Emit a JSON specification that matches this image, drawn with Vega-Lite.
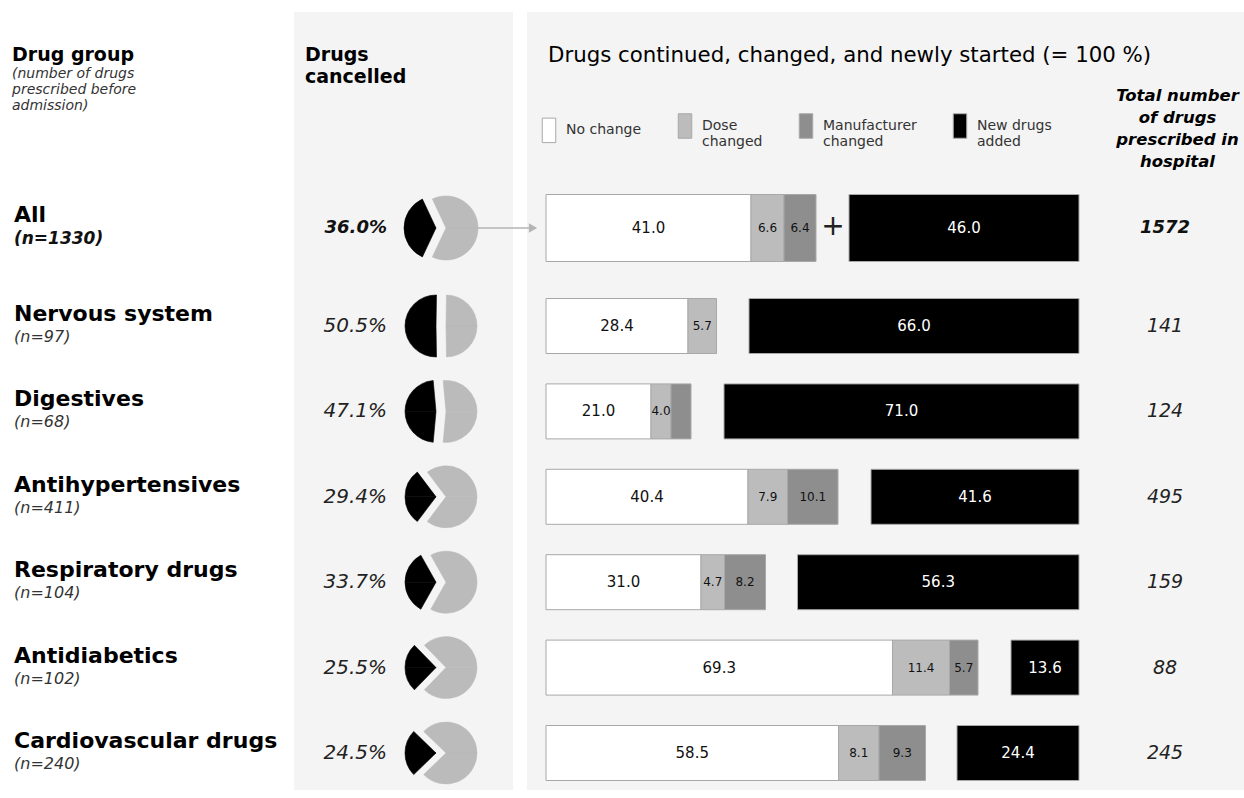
{
  "$schema": "https://vega.github.io/schema/vega-lite/v6.json",
  "width": 1244,
  "height": 798,
  "autosize": "none",
  "padding": 0,
  "background": "white",
  "config": {
    "view": {"stroke": null},
    "font": "DejaVu Sans",
    "legend": {
      "orient": "none", "legendX": 536, "legendY": 113, "direction": "horizontal",
      "symbolType": "M-0.55,-1H0.55V1H-0.55Z", "symbolSize": 600,
      "symbolStrokeColor": "#a8a8a8", "symbolStrokeWidth": 1,
      "labelFont": "DejaVu Sans", "labelFontSize": 14, "labelColor": "#333333", "labelOffset": 4,
      "columnPadding": 30, "labelLimit": 200
    }
  },
  "datasets": {
    "groups": [
      {"group": "All", "ntext": "(n=1330)", "cancelled": 0.360, "total": 1572},
      {"group": "Nervous system", "ntext": "(n=97)", "cancelled": 0.505, "total": 141},
      {"group": "Digestives", "ntext": "(n=68)", "cancelled": 0.471, "total": 124},
      {"group": "Antihypertensives", "ntext": "(n=411)", "cancelled": 0.294, "total": 495},
      {"group": "Respiratory drugs", "ntext": "(n=104)", "cancelled": 0.337, "total": 159},
      {"group": "Antidiabetics", "ntext": "(n=102)", "cancelled": 0.255, "total": 88},
      {"group": "Cardiovascular drugs", "ntext": "(n=240)", "cancelled": 0.245, "total": 245}
    ],
    "shares": [
      {"group": "All", "category": "No change", "seq": 1, "value": 41.0},
      {"group": "All", "category": "Dose changed", "seq": 2, "value": 6.6},
      {"group": "All", "category": "Manufacturer changed", "seq": 3, "value": 6.4},
      {"group": "All", "category": "New drugs added", "seq": 4, "value": 46.0},
      {"group": "Nervous system", "category": "No change", "seq": 1, "value": 28.4},
      {"group": "Nervous system", "category": "Dose changed", "seq": 2, "value": 5.7},
      {"group": "Nervous system", "category": "New drugs added", "seq": 4, "value": 66.0},
      {"group": "Digestives", "category": "No change", "seq": 1, "value": 21.0},
      {"group": "Digestives", "category": "Dose changed", "seq": 2, "value": 4.0},
      {"group": "Digestives", "category": "Manufacturer changed", "seq": 3, "value": 4.0},
      {"group": "Digestives", "category": "New drugs added", "seq": 4, "value": 71.0},
      {"group": "Antihypertensives", "category": "No change", "seq": 1, "value": 40.4},
      {"group": "Antihypertensives", "category": "Dose changed", "seq": 2, "value": 7.9},
      {"group": "Antihypertensives", "category": "Manufacturer changed", "seq": 3, "value": 10.1},
      {"group": "Antihypertensives", "category": "New drugs added", "seq": 4, "value": 41.6},
      {"group": "Respiratory drugs", "category": "No change", "seq": 1, "value": 31.0},
      {"group": "Respiratory drugs", "category": "Dose changed", "seq": 2, "value": 4.7},
      {"group": "Respiratory drugs", "category": "Manufacturer changed", "seq": 3, "value": 8.2},
      {"group": "Respiratory drugs", "category": "New drugs added", "seq": 4, "value": 56.3},
      {"group": "Antidiabetics", "category": "No change", "seq": 1, "value": 69.3},
      {"group": "Antidiabetics", "category": "Dose changed", "seq": 2, "value": 11.4},
      {"group": "Antidiabetics", "category": "Manufacturer changed", "seq": 3, "value": 5.7},
      {"group": "Antidiabetics", "category": "New drugs added", "seq": 4, "value": 13.6},
      {"group": "Cardiovascular drugs", "category": "No change", "seq": 1, "value": 58.5},
      {"group": "Cardiovascular drugs", "category": "Dose changed", "seq": 2, "value": 8.1},
      {"group": "Cardiovascular drugs", "category": "Manufacturer changed", "seq": 3, "value": 9.3},
      {"group": "Cardiovascular drugs", "category": "New drugs added", "seq": 4, "value": 24.4}
    ]
  },
  "resolve": {"scale": {"x": "independent"}},
  "layer": [
    {
      "resolve": {"scale": {"theta": "independent"}},
      "layer": [
        {
          "data": {"values": [{}]},
          "mark": {"type": "rect", "fill": "#f4f4f4"},
          "encoding": {
            "x": {"datum": -50.4, "type": "quantitative", "scale": {"domain": [-109.2, 139.6], "nice": false, "zero": false}, "axis": null},
            "x2": {"datum": -6.6},
            "y": {"value": 12}, "y2": {"value": 790}
          }
        },
        {
          "data": {"values": [{}]},
          "mark": {"type": "rect", "fill": "#f4f4f4"},
          "encoding": {
            "x": {"datum": -3.8, "type": "quantitative", "scale": {"domain": [-109.2, 139.6], "nice": false, "zero": false}, "axis": null},
            "x2": {"datum": 139.6},
            "y": {"value": 12}, "y2": {"value": 790}
          }
        },
        {
          "data": {"values": [{}]},
          "mark": {"type": "text", "text": "Drug group", "fontSize": 19, "fontWeight": "bold", "align": "left", "baseline": "alphabetic", "color": "#000"},
          "encoding": {"x": {"datum": -106.8, "type": "quantitative", "axis": null}, "y": {"value": 61}}
        },
        {
          "data": {"values": [{}]},
          "mark": {"type": "text", "text": ["(number of drugs", "prescribed before", "admission)"], "fontSize": 14, "fontStyle": "italic", "lineHeight": 16, "align": "left", "baseline": "alphabetic", "color": "#333"},
          "encoding": {"x": {"datum": -106.8, "type": "quantitative", "axis": null}, "y": {"value": 78}}
        },
        {
          "data": {"values": [{}]},
          "mark": {"type": "text", "text": ["Drugs", "cancelled"], "fontSize": 19, "fontWeight": "bold", "lineHeight": 22, "align": "left", "baseline": "alphabetic", "color": "#000"},
          "encoding": {"x": {"datum": -48.2, "type": "quantitative", "axis": null}, "y": {"value": 61}}
        },
        {
          "data": {"values": [{}]},
          "mark": {"type": "text", "text": "Drugs continued, changed, and newly started (= 100 %)", "fontSize": 21.3, "align": "left", "baseline": "alphabetic", "color": "#000"},
          "encoding": {"x": {"datum": 0.4, "type": "quantitative", "axis": null}, "y": {"value": 62}}
        },
        {
          "data": {"values": [{}]},
          "mark": {"type": "text", "text": ["Total number", "of drugs", "prescribed in", "hospital"], "fontSize": 16.5, "fontWeight": "bold", "fontStyle": "italic", "lineHeight": 22, "align": "center", "baseline": "alphabetic", "color": "#000"},
          "encoding": {"x": {"datum": 126.3, "type": "quantitative", "axis": null}, "y": {"value": 101}}
        },
        {
          "data": {"name": "groups"},
          "transform": [{"filter": "datum.group != 'All'"}],
          "mark": {"type": "text", "fontSize": 22, "fontWeight": "bold", "align": "left", "baseline": "alphabetic", "dy": -5, "color": "#000"},
          "encoding": {
            "x": {"datum": -106.4, "type": "quantitative", "axis": null},
            "y": {"field": "group", "type": "nominal", "scale": {"type": "point", "domain": ["All", "Nervous system", "Digestives", "Antihypertensives", "Respiratory drugs", "Antidiabetics", "Cardiovascular drugs"], "range": [240.6, 753], "padding": 0}, "axis": null},
            "text": {"field": "group"}
          }
        },
        {
          "data": {"name": "groups"},
          "transform": [{"filter": "datum.group == 'All'"}],
          "mark": {"type": "text", "fontSize": 22, "fontWeight": "bold", "align": "left", "baseline": "alphabetic", "dy": -6, "yOffset": -12.6, "color": "#000"},
          "encoding": {
            "x": {"datum": -106.4, "type": "quantitative", "axis": null},
            "y": {"field": "group", "type": "nominal", "axis": null},
            "text": {"field": "group"}
          }
        },
        {
          "data": {"name": "groups"},
          "transform": [{"filter": "datum.group != 'All'"}],
          "mark": {"type": "text", "fontSize": 16, "fontStyle": "italic", "align": "left", "baseline": "alphabetic", "dy": 16, "color": "#333"},
          "encoding": {
            "x": {"datum": -106.4, "type": "quantitative", "axis": null},
            "y": {"field": "group", "type": "nominal", "axis": null},
            "text": {"field": "ntext"}
          }
        },
        {
          "data": {"name": "groups"},
          "transform": [{"filter": "datum.group == 'All'"}],
          "mark": {"type": "text", "fontSize": 17, "fontStyle": "italic", "fontWeight": "bold", "align": "left", "baseline": "alphabetic", "dy": 16, "yOffset": -12.6, "color": "#111"},
          "encoding": {
            "x": {"datum": -106.4, "type": "quantitative", "axis": null},
            "y": {"field": "group", "type": "nominal", "axis": null},
            "text": {"field": "ntext"}
          }
        },
        {
          "data": {"name": "groups"},
          "transform": [{"filter": "datum.group != 'All'"}],
          "mark": {"type": "text", "fontSize": 20, "fontStyle": "italic", "align": "right", "baseline": "middle", "color": "#222"},
          "encoding": {
            "x": {"datum": -31.8, "type": "quantitative", "axis": null},
            "y": {"field": "group", "type": "nominal", "axis": null},
            "text": {"field": "cancelled", "type": "quantitative", "format": ".1%"}
          }
        },
        {
          "data": {"name": "groups"},
          "transform": [{"filter": "datum.group == 'All'"}],
          "mark": {"type": "text", "fontSize": 18, "fontStyle": "italic", "fontWeight": "bold", "align": "right", "baseline": "middle", "yOffset": -12.6, "color": "#111"},
          "encoding": {
            "x": {"datum": -31.8, "type": "quantitative", "axis": null},
            "y": {"field": "group", "type": "nominal", "axis": null},
            "text": {"field": "cancelled", "type": "quantitative", "format": ".1%"}
          }
        },
        {
          "data": {"name": "groups"},
          "transform": [{"filter": "datum.group != 'All'"}],
          "mark": {"type": "arc", "radius": 31, "fill": "#000000", "stroke": "#000000", "strokeWidth": 0.6, "xOffset": -5},
          "encoding": {
            "x": {"datum": -21, "type": "quantitative", "axis": null},
            "y": {"field": "group", "type": "nominal", "axis": null},
            "theta": {"field": "cancelled", "type": "quantitative", "stack": null, "scale": {"domain": [0, 2], "range": [4.712389, 10.995574]}},
            "theta2": {"datum": 0}
          }
        },
        {
          "data": {"name": "groups"},
          "transform": [{"filter": "datum.group != 'All'"}],
          "mark": {"type": "arc", "radius": 31, "fill": "#000000", "stroke": "#000000", "strokeWidth": 0.6, "xOffset": -5},
          "encoding": {
            "x": {"datum": -21, "type": "quantitative", "axis": null},
            "y": {"field": "group", "type": "nominal", "axis": null},
            "theta": {"field": "cancelled", "type": "quantitative", "stack": null, "scale": {"domain": [0, 2], "range": [4.712389, -1.570796]}},
            "theta2": {"datum": 0}
          }
        },
        {
          "data": {"name": "groups"},
          "transform": [{"filter": "datum.group != 'All'"}],
          "mark": {"type": "arc", "radius": 31, "fill": "#bbbbbb", "stroke": "#bbbbbb", "strokeWidth": 0.6, "xOffset": 5},
          "encoding": {
            "x": {"datum": -21, "type": "quantitative", "axis": null},
            "y": {"field": "group", "type": "nominal", "axis": null},
            "theta": {"field": "cancelled", "type": "quantitative", "stack": null, "scale": {"domain": [0, 2], "range": [4.712389, 10.995574]}},
            "theta2": {"datum": 1}
          }
        },
        {
          "data": {"name": "groups"},
          "transform": [{"filter": "datum.group != 'All'"}],
          "mark": {"type": "arc", "radius": 31, "fill": "#bbbbbb", "stroke": "#bbbbbb", "strokeWidth": 0.6, "xOffset": 5},
          "encoding": {
            "x": {"datum": -21, "type": "quantitative", "axis": null},
            "y": {"field": "group", "type": "nominal", "axis": null},
            "theta": {"field": "cancelled", "type": "quantitative", "stack": null, "scale": {"domain": [0, 2], "range": [4.712389, -1.570796]}},
            "theta2": {"datum": 1}
          }
        },
        {
          "data": {"name": "groups"},
          "transform": [{"filter": "datum.group == 'All'"}],
          "mark": {"type": "arc", "radius": 32, "fill": "#000000", "stroke": "#000000", "strokeWidth": 0.6, "xOffset": -5, "yOffset": -12.6},
          "encoding": {
            "x": {"datum": -21, "type": "quantitative", "axis": null},
            "y": {"field": "group", "type": "nominal", "axis": null},
            "theta": {"field": "cancelled", "type": "quantitative", "stack": null, "scale": {"domain": [0, 2], "range": [4.712389, 10.995574]}},
            "theta2": {"datum": 0}
          }
        },
        {
          "data": {"name": "groups"},
          "transform": [{"filter": "datum.group == 'All'"}],
          "mark": {"type": "arc", "radius": 32, "fill": "#000000", "stroke": "#000000", "strokeWidth": 0.6, "xOffset": -5, "yOffset": -12.6},
          "encoding": {
            "x": {"datum": -21, "type": "quantitative", "axis": null},
            "y": {"field": "group", "type": "nominal", "axis": null},
            "theta": {"field": "cancelled", "type": "quantitative", "stack": null, "scale": {"domain": [0, 2], "range": [4.712389, -1.570796]}},
            "theta2": {"datum": 0}
          }
        },
        {
          "data": {"name": "groups"},
          "transform": [{"filter": "datum.group == 'All'"}],
          "mark": {"type": "arc", "radius": 32, "fill": "#bbbbbb", "stroke": "#bbbbbb", "strokeWidth": 0.6, "xOffset": 5, "yOffset": -12.6},
          "encoding": {
            "x": {"datum": -21, "type": "quantitative", "axis": null},
            "y": {"field": "group", "type": "nominal", "axis": null},
            "theta": {"field": "cancelled", "type": "quantitative", "stack": null, "scale": {"domain": [0, 2], "range": [4.712389, 10.995574]}},
            "theta2": {"datum": 1}
          }
        },
        {
          "data": {"name": "groups"},
          "transform": [{"filter": "datum.group == 'All'"}],
          "mark": {"type": "arc", "radius": 32, "fill": "#bbbbbb", "stroke": "#bbbbbb", "strokeWidth": 0.6, "xOffset": 5, "yOffset": -12.6},
          "encoding": {
            "x": {"datum": -21, "type": "quantitative", "axis": null},
            "y": {"field": "group", "type": "nominal", "axis": null},
            "theta": {"field": "cancelled", "type": "quantitative", "stack": null, "scale": {"domain": [0, 2], "range": [4.712389, -1.570796]}},
            "theta2": {"datum": 1}
          }
        },
        {
          "data": {"name": "groups"},
          "transform": [{"filter": "datum.group == 'All'"}],
          "mark": {"type": "rule", "color": "#b5b5b5", "strokeWidth": 1.5, "yOffset": -12.6},
          "encoding": {
            "x": {"datum": -13.6, "type": "quantitative", "axis": null},
            "x2": {"datum": -2.0},
            "y": {"field": "group", "type": "nominal", "axis": null}
          }
        },
        {
          "data": {"name": "groups"},
          "transform": [{"filter": "datum.group == 'All'"}],
          "mark": {"type": "point", "shape": "triangle-right", "filled": true, "color": "#b5b5b5", "opacity": 1, "size": 90, "yOffset": -12.6},
          "encoding": {
            "x": {"datum": -2.6, "type": "quantitative", "axis": null},
            "y": {"field": "group", "type": "nominal", "axis": null}
          }
        },
        {
          "data": {"name": "groups"},
          "transform": [{"filter": "datum.group == 'All'"}],
          "mark": {"type": "text", "text": "+", "fontSize": 28, "align": "center", "baseline": "middle", "yOffset": -13.6, "color": "#222"},
          "encoding": {
            "x": {"datum": 57.4, "type": "quantitative", "axis": null},
            "y": {"field": "group", "type": "nominal", "axis": null}
          }
        },
        {
          "data": {"name": "shares"},
          "transform": [{"filter": "datum.group != 'All' && datum.category != 'New drugs added'"}],
          "mark": {"type": "bar", "height": 55, "stroke": "#a8a8a8", "strokeWidth": 1},
          "encoding": {
            "x": {"field": "value", "type": "quantitative", "stack": "zero", "axis": null},
            "y": {"field": "group", "type": "nominal", "axis": null},
            "color": {"field": "category", "type": "nominal",
              "scale": {"domain": ["No change", "Dose changed", "Manufacturer changed", "New drugs added"], "range": ["#ffffff", "#bcbcbc", "#8e8e8e", "#000000"]},
              "legend": {"title": null, "labelExpr": "datum.label == 'Dose changed' ? ['Dose', 'changed'] : datum.label == 'Manufacturer changed' ? ['Manufacturer', 'changed'] : datum.label == 'New drugs added' ? ['New drugs', 'added'] : datum.label"}},
            "order": {"field": "seq", "type": "quantitative"}
          }
        },
        {
          "data": {"name": "shares"},
          "transform": [{"filter": "datum.group == 'All' && datum.category != 'New drugs added'"}],
          "mark": {"type": "bar", "height": 67, "stroke": "#a8a8a8", "strokeWidth": 1, "yOffset": -12.6},
          "encoding": {
            "x": {"field": "value", "type": "quantitative", "stack": "zero", "axis": null},
            "y": {"field": "group", "type": "nominal", "axis": null},
            "color": {"field": "category", "type": "nominal"},
            "order": {"field": "seq", "type": "quantitative"}
          }
        },
        {
          "data": {"name": "shares"},
          "transform": [{"filter": "datum.group != 'All' && datum.category != 'New drugs added'"}],
          "mark": {"type": "text", "align": "center", "baseline": "middle", "color": "#111"},
          "encoding": {
            "x": {"field": "value", "type": "quantitative", "stack": "zero", "bandPosition": 0.5, "axis": null},
            "y": {"field": "group", "type": "nominal", "axis": null},
            "detail": {"field": "category"},
            "order": {"field": "seq", "type": "quantitative"},
            "text": {"condition": {"test": "datum.value < 4.5 && datum.category == 'Manufacturer changed'", "value": ""}, "field": "value", "type": "quantitative", "format": ".1f"},
            "size": {"condition": {"test": "datum.category == 'No change'", "value": 15}, "value": 12}
          }
        },
        {
          "data": {"name": "shares"},
          "transform": [{"filter": "datum.group == 'All' && datum.category != 'New drugs added'"}],
          "mark": {"type": "text", "align": "center", "baseline": "middle", "color": "#111", "yOffset": -12.6},
          "encoding": {
            "x": {"field": "value", "type": "quantitative", "stack": "zero", "bandPosition": 0.5, "axis": null},
            "y": {"field": "group", "type": "nominal", "axis": null},
            "detail": {"field": "category"},
            "order": {"field": "seq", "type": "quantitative"},
            "text": {"field": "value", "type": "quantitative", "format": ".1f"},
            "size": {"condition": {"test": "datum.category == 'No change'", "value": 15}, "value": 12}
          }
        },
        {
          "data": {"name": "groups"},
          "transform": [{"filter": "datum.group != 'All'"}],
          "mark": {"type": "text", "fontSize": 19, "fontStyle": "italic", "align": "center", "baseline": "middle", "color": "#222"},
          "encoding": {
            "x": {"datum": 123.8, "type": "quantitative", "axis": null},
            "y": {"field": "group", "type": "nominal", "axis": null},
            "text": {"field": "total"}
          }
        },
        {
          "data": {"name": "groups"},
          "transform": [{"filter": "datum.group == 'All'"}],
          "mark": {"type": "text", "fontSize": 18, "fontStyle": "italic", "fontWeight": "bold", "align": "center", "baseline": "middle", "yOffset": -12.6, "color": "#111"},
          "encoding": {
            "x": {"datum": 123.8, "type": "quantitative", "axis": null},
            "y": {"field": "group", "type": "nominal", "axis": null},
            "text": {"field": "total"}
          }
        }
      ]
    },
    {
      "data": {"name": "shares"},
      "transform": [{"filter": "datum.category == 'New drugs added'"}],
      "layer": [
        {
          "transform": [{"filter": "datum.group != 'All'"}],
          "mark": {"type": "bar", "height": 55, "stroke": "#a8a8a8", "strokeWidth": 1},
          "encoding": {
            "x": {"field": "value", "type": "quantitative", "stack": "zero", "scale": {"domain": [-33, 215.8], "reverse": true, "nice": false, "zero": false}, "axis": null},
            "y": {"field": "group", "type": "nominal", "axis": null},
            "color": {"field": "category", "type": "nominal"}
          }
        },
        {
          "transform": [{"filter": "datum.group == 'All'"}],
          "mark": {"type": "bar", "height": 67, "stroke": "#a8a8a8", "strokeWidth": 1, "yOffset": -12.6},
          "encoding": {
            "x": {"field": "value", "type": "quantitative", "stack": "zero", "axis": null},
            "y": {"field": "group", "type": "nominal", "axis": null},
            "color": {"field": "category", "type": "nominal"}
          }
        },
        {
          "transform": [{"filter": "datum.group != 'All'"}],
          "mark": {"type": "text", "align": "center", "baseline": "middle", "color": "#ffffff", "fontSize": 15},
          "encoding": {
            "x": {"field": "value", "type": "quantitative", "stack": "zero", "bandPosition": 0.5, "axis": null},
            "y": {"field": "group", "type": "nominal", "axis": null},
            "text": {"field": "value", "type": "quantitative", "format": ".1f"}
          }
        },
        {
          "transform": [{"filter": "datum.group == 'All'"}],
          "mark": {"type": "text", "align": "center", "baseline": "middle", "color": "#ffffff", "fontSize": 15, "yOffset": -12.6},
          "encoding": {
            "x": {"field": "value", "type": "quantitative", "stack": "zero", "bandPosition": 0.5, "axis": null},
            "y": {"field": "group", "type": "nominal", "axis": null},
            "text": {"field": "value", "type": "quantitative", "format": ".1f"}
          }
        }
      ]
    }
  ]
}
